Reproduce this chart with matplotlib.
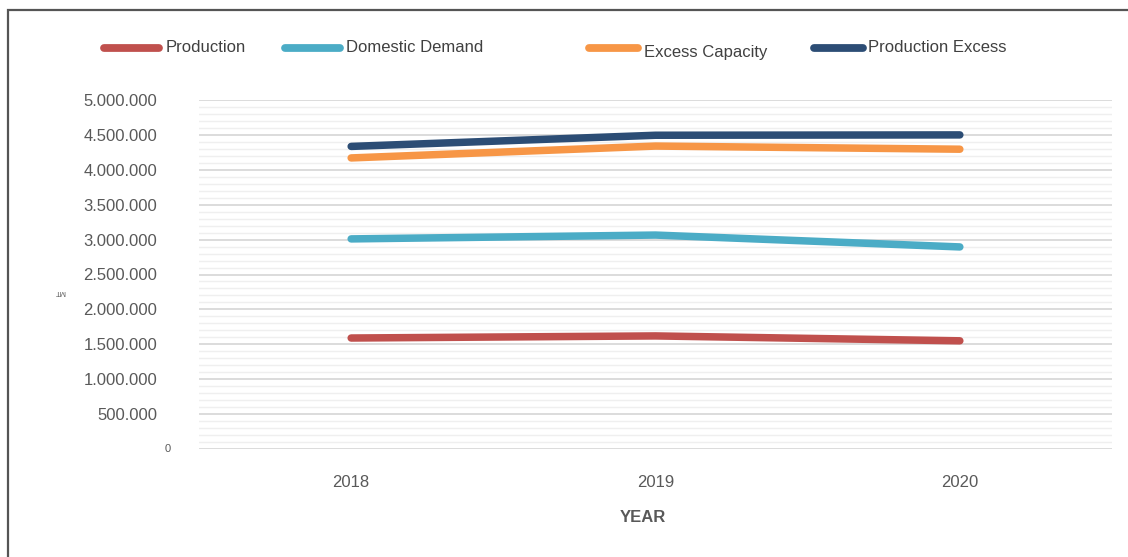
import matplotlib
matplotlib.use("Agg")
import matplotlib.pyplot as plt
from matplotlib.lines import Line2D
from matplotlib.patches import Rectangle
from matplotlib.ticker import MultipleLocator, FuncFormatter

plt.rcParams['font.family'] = ['Liberation Sans', 'DejaVu Sans']

years = ["2018", "2019", "2020"]
production = [1590000, 1620000, 1550000]
domestic_demand = [3010000, 3065000, 2895000]
excess_capacity = [4170000, 4340000, 4295000]
production_excess = [4335000, 4495000, 4500000]

series_names = ["Production", "Domestic Demand", "Excess Capacity", "Production Excess"]
series_values = [production, domestic_demand, excess_capacity, production_excess]
series_colors = ["#C0504D", "#4BACC6", "#F79646", "#2C4D75"]

W, H = 1128, 557
fig = plt.figure(figsize=(W / 100, H / 100), dpi=100)
ax = fig.add_axes([199 / W, 1 - 449 / H, (1112 - 199) / W, (449 - 100) / H])

x = list(range(len(years)))
for name, vals, col in zip(series_names, series_values, series_colors):
    ax.plot(x, vals, color=col, lw=5.4, solid_capstyle="round",
            solid_joinstyle="round", zorder=3)

ax.set_xlim(-0.5, len(years) - 0.5)
ax.set_ylim(0, 5000000)
ax.set_xticks(x)
ax.set_xticklabels(years)
for lbl in ax.get_xticklabels():
    lbl.set_x(lbl.get_position()[0])

ax.yaxis.set_major_locator(MultipleLocator(500000))
ax.yaxis.set_minor_locator(MultipleLocator(100000))
ax.yaxis.set_major_formatter(FuncFormatter(
    lambda v, p: "" if v == 0 else f"{v:,.0f}".replace(",", ".")))
ax.grid(True, which="major", axis="y", color="#d9d9d9", lw=1.3, zorder=0)
ax.grid(True, which="minor", axis="y", color="#efefef", lw=1.0, zorder=0)
ax.tick_params(axis="y", which="both", length=0, pad=30, labelsize=12,
               labelcolor="#595959")
ax.tick_params(axis="x", length=0, pad=19, labelsize=12, labelcolor="#595959")
for s in ax.spines.values():
    s.set_visible(False)

# small zero label sitting apart from the other tick labels
ax.text(-28 / 913, 0, "0", transform=ax.get_yaxis_transform(),
        ha="right", va="center", fontsize=8, color="#595959")

fig.text(60 / W, 1 - 292 / H, "MT", rotation=180, fontsize=5.5,
         color="#595959", ha="center", va="center")
fig.text(643 / W, 1 - 517 / H, "YEAR", fontsize=12, fontweight="bold",
         color="#595959", ha="center", va="center")

# legend drawn along the top
legend_items = [
    (104, 159, 48, 166, 47),
    (285, 340, 48, 346, 47),
    (589, 638, 48, 644, 52),
    (814, 863, 48, 868, 47),
]
for (x0, x1, ly, tx, ty), name, col in zip(legend_items, series_names, series_colors):
    fig.add_artist(Line2D([x0 / W, x1 / W], [1 - ly / H, 1 - ly / H],
                          transform=fig.transFigure, color=col, lw=5.6,
                          solid_capstyle="round"))
    fig.text(tx / W, 1 - ty / H, name, fontsize=12, color="#404040",
             ha="left", va="center")

# outer frame: only left and top edges fall inside the canvas
fig.add_artist(Rectangle((8 / W, -0.1), 1.2, 1.1 - 10 / H,
                         transform=fig.transFigure, fill=False,
                         edgecolor="#555555", lw=1.6, clip_on=False))

fig.savefig("out.png", dpi=100, facecolor="white")
